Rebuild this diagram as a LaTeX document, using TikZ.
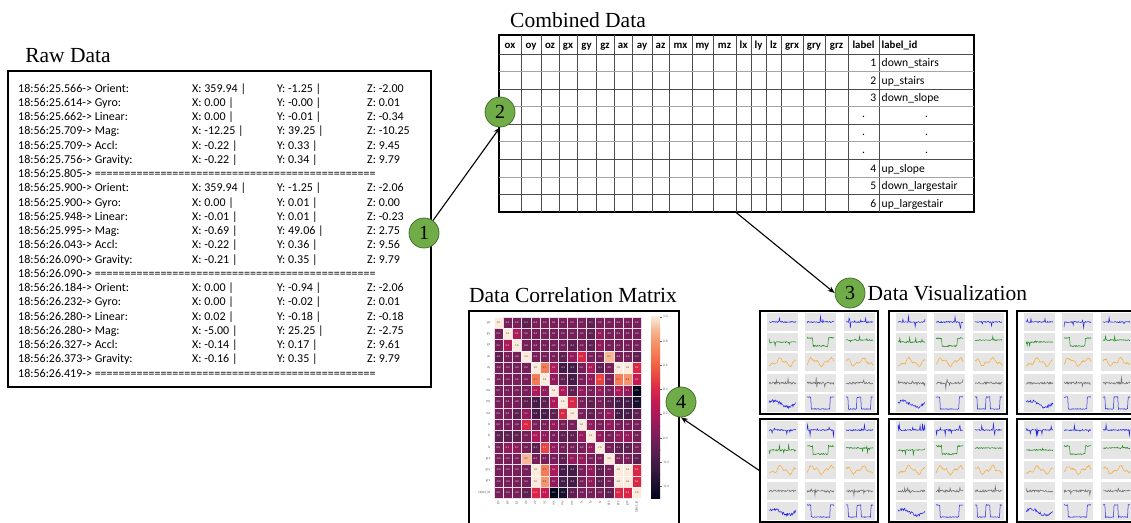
\documentclass[tikz,border=0pt]{standalone}
\usepackage{fontspec}
\setmainfont{Liberation Serif}
\newfontfamily\carl{Carlito}
\usetikzlibrary{arrows.meta}
\definecolor{cgreen}{RGB}{112,172,72}
\definecolor{cgreend}{RGB}{72,112,46}
\definecolor{hm0}{HTML}{03051A}
\definecolor{hm1}{HTML}{170F2B}
\definecolor{hm2}{HTML}{2D1739}
\definecolor{hm3}{HTML}{451C47}
\definecolor{hm4}{HTML}{5E1F51}
\definecolor{hm5}{HTML}{761F58}
\definecolor{hm6}{HTML}{921C5B}
\definecolor{hm7}{HTML}{AC1A59}
\definecolor{hm8}{HTML}{C41A53}
\definecolor{hm9}{HTML}{D92847}
\definecolor{hm10}{HTML}{E84340}
\definecolor{hm11}{HTML}{EF6044}
\definecolor{hm12}{HTML}{F47C56}
\definecolor{hm13}{HTML}{F5966E}
\definecolor{hm14}{HTML}{F7B995}
\definecolor{hm15}{HTML}{FAEBDD}
\definecolor{vizbg}{RGB}{229,229,229}
\definecolor{pblue}{RGB}{30,30,235}
\definecolor{pgreen}{RGB}{30,140,30}
\definecolor{porange}{RGB}{250,170,45}
\definecolor{pgray}{RGB}{110,110,110}
\tikzset{
  title/.style={font=\rmfamily\fontsize{21.5}{24}\selectfont, inner sep=0pt},
  rawtxt/.style={font=\fontsize{12}{13}\selectfont\carl, anchor=base west, inner sep=0pt},
  hdr/.style={font=\fontsize{10.8}{12}\selectfont\carl\bfseries, anchor=base, inner sep=0pt},
  cell/.style={font=\fontsize{11.6}{12}\selectfont\carl, inner sep=0pt},
  num/.style={circle, draw=cgreend, line width=0.8pt, fill=cgreen, minimum size=30pt, inner sep=0pt, font=\rmfamily\fontsize{20}{22}\selectfont},
  arr/.style={-{Stealth[length=7pt,width=5.5pt]}, line width=1.1pt},
  box/.style={draw, line width=1.4pt, inner sep=0pt},
  panel/.style={draw, line width=1.4pt, inner sep=0pt, minimum width=118pt, minimum height=103pt},
  gdark/.style={draw=black!70, line width=0.7pt},
  glight/.style={draw=black!35, line width=0.7pt},
  tiny/.style={font=\fontsize{3.6}{4}\selectfont\carl, text=black!60, inner sep=0pt},
  annot/.style={font=\fontsize{2.6}{3}\selectfont\carl, inner sep=0pt},
  pb/.style={draw=pblue, line width=0.5pt},
  pg/.style={draw=pgreen, line width=0.5pt},
  po/.style={draw=porange, line width=0.5pt},
  pk/.style={draw=pgray, line width=0.5pt},
}
\newcommand\vizpanel[4]{%
  \node[panel] (#1) at ({#2+59},{#3+51.5}) {};
  \begin{scope}[shift={(#2,#3)}]
    \pgfmathsetseed{#4}
    \foreach \cx in {7,45,84}{\foreach \ry in {2,22,42,63,83}{\fill[vizbg] (\cx,\ry) rectangle ++(31,18);}}
    \foreach \cx in {7,45,84}{
      \draw[pb] plot[domain=2:29,samples=45] ({\cx+\x},{11+0.6*rand+(rnd>0.9)*6*rand});
      \draw[pk] plot[domain=2:29,samples=45] ({\cx+\x},{72+1.1*rand+(rnd>0.93)*5*rand});
    }
    \draw[pg] plot[domain=2:29,samples=45] ({7+\x},{31+0.6*rand+(rnd>0.9)*5*rand});
    \draw[pg] plot[domain=2:29,samples=45] ({45+\x},{27+(\x>8)*(\x<23)*8+0.7*rand});
    \draw[pg] plot[domain=2:29,samples=45] ({84+\x},{29+0.6*rand+(rnd>0.9)*5*rand});
    \foreach \cx/\ph in {7/0,45/120,84/240}{
      \draw[po] plot[domain=2:29,samples=45] ({\cx+\x},{51+3*sin(\x*20+\ph)+1.5*sin(\x*50)+0.8*rand});
    }
    \draw[pb] plot[domain=2:29,samples=45] ({7+\x},{93-3*sin(\x*13)+1.5*rand});
    \draw[pb] plot[domain=2:29,samples=45] ({45+\x},{86+(\x>6)*(\x<25)*12+0.4*rand});
    \draw[pb] plot[domain=2:29,samples=45] ({84+\x},{86+(\x>4)*(\x<13)*12+(\x>17)*(\x<27)*12+0.4*rand});
  \end{scope}}
\def\hmrows{%
{1.0,0.0,0.0,-0.1,-0.0,-0.0,0.0,0.0,0.0,0.0,-0.1,0.0,-0.0,-0.0,-0.0,0.0},%
{0.0,1.0,0.2,0.0,-0.0,-0.0,0.0,0.0,0.0,-0.0,-0.1,0.1,-0.0,-0.0,-0.0,-0.0},%
{0.0,0.2,1.0,-0.0,-0.0,0.0,-0.0,-0.0,-0.1,-0.0,-0.1,0.1,-0.0,-0.0,-0.0,-0.0},%
{-0.1,0.0,-0.0,1.0,-0.0,-0.0,0.0,-0.1,0.1,0.4,-0.0,-0.0,0.9,-0.0,-0.0,-0.1},%
{-0.0,-0.0,-0.0,-0.0,1.0,0.7,0.2,-0.2,-0.2,0.0,0.2,-0.1,-0.0,1.0,1.0,0.4},%
{-0.0,-0.0,0.0,-0.0,0.7,1.0,0.1,-0.1,-0.2,0.0,0.1,0.5,0.0,0.7,0.8,0.3},%
{0.0,0.0,-0.0,0.0,0.2,0.1,1.0,0.2,-0.1,0.1,0.0,0.1,-0.0,0.2,0.1,-0.5},%
{0.0,0.0,-0.0,-0.1,-0.2,-0.1,0.2,1.0,0.4,-0.0,-0.1,0.0,-0.1,-0.2,-0.2,-0.4},%
{0.0,0.0,-0.1,0.1,-0.2,-0.2,-0.1,0.4,1.0,0.0,-0.1,-0.0,0.1,-0.2,-0.2,-0.1},%
{0.0,-0.0,-0.0,0.4,0.0,0.0,0.1,-0.0,0.0,1.0,0.1,-0.0,0.1,0.0,-0.0,-0.0},%
{-0.1,-0.1,-0.1,-0.0,0.2,0.1,0.0,-0.1,-0.1,0.1,1.0,0.1,-0.0,0.1,0.1,0.0},%
{0.0,0.1,0.1,-0.0,-0.1,0.5,0.1,0.0,-0.0,-0.0,0.1,1.0,0.0,-0.1,-0.1,-0.0},%
{-0.0,-0.0,-0.0,0.9,-0.0,0.0,-0.0,-0.1,0.1,0.1,-0.0,0.0,1.0,-0.0,-0.0,-0.1},%
{-0.0,-0.0,-0.0,-0.0,1.0,0.7,0.2,-0.2,-0.2,0.0,0.1,-0.1,-0.0,1.0,1.0,0.4},%
{-0.0,-0.0,-0.0,0.0,1.0,0.8,0.1,-0.2,-0.2,-0.0,0.1,-0.1,-0.0,1.0,1.0,0.4},%
{0.0,-0.0,-0.0,-0.1,0.4,0.3,-0.5,-0.4,-0.1,-0.0,0.0,-0.0,-0.1,0.4,0.4,1.0}}
\begin{document}
\begin{tikzpicture}[x=1pt,y=-1pt]
\useasboundingbox (0,0) rectangle (1131,522);
\clip (0,0) rectangle (1131,522);
\fill[white] (0,0) rectangle (1131,522);

% ---------- Raw data ----------
\node[title] (tRaw) at (68,56) {Raw Data};
\node[box, minimum width=423pt, minimum height=316pt] (raw) at (219.5,229) {};
\foreach \i/\ts/\lab/\xv/\yv/\zv in {
 0/18:56:25.566/Orient:/359.94/-1.25/-2.00,
 1/18:56:25.614/Gyro:/0.00/-0.00/0.01,
 2/18:56:25.662/Linear:/0.00/-0.01/-0.34,
 3/18:56:25.709/Mag:/-12.25/39.25/-10.25,
 4/18:56:25.709/Accl:/-0.22/0.33/9.45,
 5/18:56:25.756/Gravity:/-0.22/0.34/9.79,
 7/18:56:25.900/Orient:/359.94/-1.25/-2.06,
 8/18:56:25.900/Gyro:/0.00/0.01/0.00,
 9/18:56:25.948/Linear:/-0.01/0.01/-0.23,
 10/18:56:25.995/Mag:/-0.69/49.06/2.75,
 11/18:56:26.043/Accl:/-0.22/0.36/9.56,
 12/18:56:26.090/Gravity:/-0.21/0.35/9.79,
 14/18:56:26.184/Orient:/0.00/-0.94/-2.06,
 15/18:56:26.232/Gyro:/0.00/-0.02/0.01,
 16/18:56:26.280/Linear:/0.02/-0.18/-0.18,
 17/18:56:26.280/Mag:/-5.00/25.25/-2.75,
 18/18:56:26.327/Accl:/-0.14/0.17/9.61,
 19/18:56:26.373/Gravity:/-0.16/0.35/9.79}{
  \pgfmathsetmacro\yy{88.3+\i*14.25+3.9}
  \node[rawtxt] (ra\i) at (18,\yy) {\ts-> \lab};
  \node[rawtxt] (rx\i) at (192,\yy) {X: \xv\ |};
  \node[rawtxt] (ry\i) at (277,\yy) {Y: \yv\ |};
  \node[rawtxt] (rz\i) at (367,\yy) {Z: \zv};
}
\foreach \i/\ts in {6/18:56:25.805,13/18:56:26.090,20/18:56:26.419}{
  \pgfmathsetmacro\yy{88.3+\i*14.25+3.9}
  \node[rawtxt] (ra\i) at (18,\yy) {\ts-> ===============================================};
}

% ---------- Combined data table ----------
\node[title] (tComb) at (578,20) {Combined Data};
\node[box, line width=1.6pt, minimum width=475pt, minimum height=177pt] (tbl) at (736.5,123.5) {};
\foreach \x in {521,541,559,577,596,614,632,652,669,692,713,736,751,766,781,803,825,848,879}{
  \draw[gdark] (\x,35) -- (\x,212);
}
\foreach \k in {0,...,8}{
  \pgfmathsetmacro\yy{54+\k*17.56}
  \pgfmathtruncatemacro\odd{mod(\k,2)}
  \ifnum\odd=0 \draw[gdark] (499,\yy) -- (974,\yy); \else \draw[glight] (499,\yy) -- (974,\yy); \fi
}
\foreach \t/\a/\b [count=\n] in {ox/499/521,oy/521/541,oz/541/559,gx/559/577,gy/577/596,gz/596/614,ax/614/632,ay/632/652,az/652/669,mx/669/692,my/692/713,mz/713/736,lx/736/751,ly/751/766,lz/766/781,grx/781/803,gry/803/825,grz/825/848,label/848/879}{
  \node[hdr] (h\n) at ({(\a+\b)/2},48.3) {\t};
}
\node[hdr, anchor=base west] (h20) at (881.5,48.3) {label\_id};
\foreach \k/\lb/\lid in {1/1/down\_stairs,2/2/up\_stairs,3/3/down\_slope,7/4/up\_slope,8/5/down\_largestair,9/6/up\_largestair}{
  \pgfmathsetmacro\yy{54+(\k-0.5)*17.56+3.9}
  \node[cell, anchor=base east] (lb\k) at (876.5,\yy) {\lb};
  \node[cell, anchor=base west] (li\k) at (881.5,\yy) {\lid};
}
\foreach \k in {4,5,6}{
  \pgfmathsetmacro\yy{54+(\k-0.5)*17.56+2.5}
  \node[cell, anchor=base] (lb\k) at (863.5,\yy) {.};
  \node[cell, anchor=base] (li\k) at (926.5,\yy) {.};
}

% ---------- Correlation matrix ----------
\node[title] (tCorr) at (573,295) {Data Correlation Matrix};
\node[box, minimum width=210pt, minimum height=260pt] (cm) at (574,441) {};
\foreach \row [count=\i from 0] in \hmrows {
  \foreach \v [count=\j from 0] in \row {
    \pgfmathtruncatemacro\ci{round(\v*10)+5}
    \pgfmathsetmacro\cx{493.7+\j*9.225}
    \pgfmathsetmacro\cy{316.8+\i*11.35}
    \fill[hm\ci, draw=white!85!hm\ci, line width=0.2pt] (\cx,\cy) rectangle ++(9.225,11.35);
    \ifnum\ci>11
      \node[annot, text=black!80] (a\i-\j) at ({\cx+4.61},{\cy+5.67}) {\v};
    \else
      \node[annot, text=white] (a\i-\j) at ({\cx+4.61},{\cy+5.67}) {\v};
    \fi
  }
}
\foreach \t [count=\i from 0] in {gx,gy,gz,ax,ay,az,mx,my,mz,lx,ly,lz,grx,gry,grz,label\_id}{
  \node[tiny, anchor=east] (rl\i) at (490.5,{316.8+(\i+0.5)*11.35}) {\t};
  \node[tiny, anchor=east, rotate=90] (cl\i) at ({493.7+(\i+0.5)*9.225},501) {\t};
}
\foreach \k in {0,...,14}{
  \pgfmathtruncatemacro\ka{15-\k}
  \pgfmathtruncatemacro\kb{14-\k}
  \shade[top color=hm\ka, bottom color=hm\kb] (651,{316.8+\k*12.107}) rectangle (660,{316.8+(\k+1)*12.107+0.3});
}
\foreach \v/\t in {1.0/1.0,0.8/0.8,0.6/0.6,0.4/0.4,0.2/0.2,0.0/0.0,-0.2/-0.2,-0.4/-0.4}{
  \pgfmathsetmacro\yy{316.8+(1-\v)*121.07}
  \draw[black!60, line width=0.3pt] (660,\yy) -- (662,\yy);
  \node[tiny, anchor=west] (cb\t) at (663,\yy) {\t};
}

% ---------- Data visualization ----------
\node[title, anchor=west] (tViz) at (867.5,293) {Data Visualization};
\vizpanel{p1}{760}{311}{11}
\vizpanel{p2}{889}{311}{23}
\vizpanel{p3}{1017}{311}{37}
\vizpanel{p4}{760}{419}{41}
\vizpanel{p5}{889}{419}{53}
\vizpanel{p6}{1017}{419}{67}

% ---------- numbered steps and arrows ----------
\node[num] (c1) at (424,233) {1};
\node[num] (c2) at (500,112) {2};
\node[num] (c3) at (850,293) {3};
\node[num] (c4) at (681,402) {4};
\draw[arr] (c1) -- (c2.south);
\draw[arr] (tbl.south) -- (c3.west);
\draw[arr] (p4.west) -- (c4.south);
\end{tikzpicture}
\end{document}
